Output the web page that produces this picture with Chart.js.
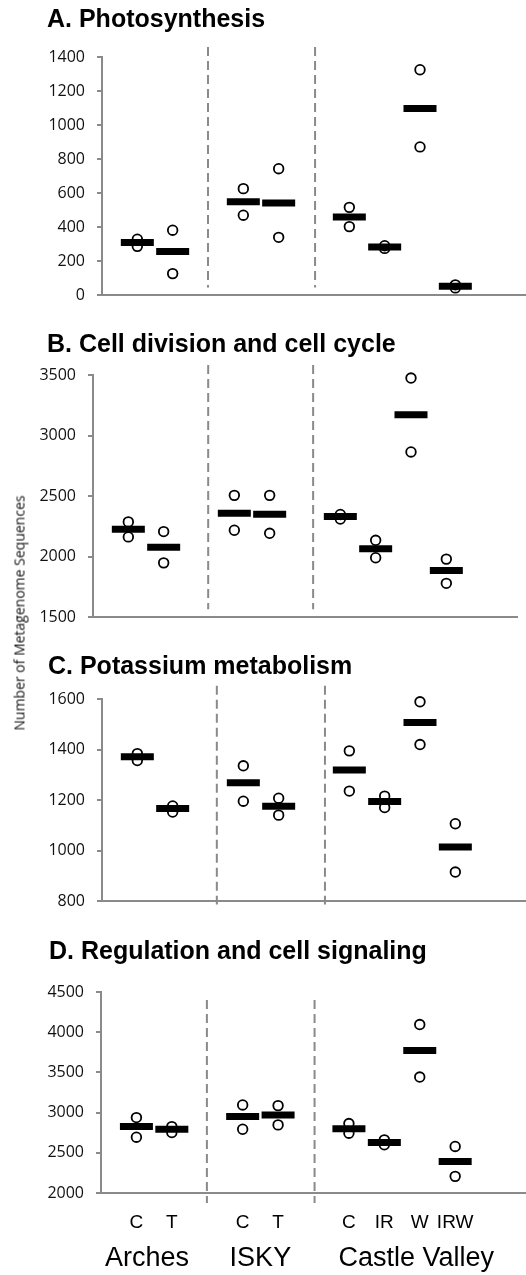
<!DOCTYPE html>
<html>
<head>
<meta charset="utf-8">
<script src="https://cdn.jsdelivr.net/npm/chart.js@4"></script>
<style>
  body { margin: 0; background: #fff; }
  .panel { position: absolute; left: 0; width: 526px; }
  .title {
    position: absolute; height: 30px; line-height: 30px; white-space: nowrap;
    font-family: "Liberation Sans", Arial, sans-serif; font-size: 25px; font-weight: bold; color: #000;
  }
  #ytitle {
    position: absolute; left: 19px; top: 613px;
    transform: translate(-50%, -50%) rotate(-90deg);
    font-family: "Open Sans", sans-serif; font-size: 14px; color: #111;
    white-space: nowrap;
  }
</style>
</head>
<body>
<div class="panel" style="top:0;height:317px"><canvas id="panelA"></canvas></div>
<div class="panel" style="top:310px;height:329px"><canvas id="panelB"></canvas></div>
<div class="panel" style="top:627px;height:296px"><canvas id="panelC"></canvas></div>
<div class="panel" style="top:911px;height:364px"><canvas id="panelD"></canvas></div>
<div class="title" style="left:47px;top:3px">A. Photosynthesis</div>
<div class="title" style="left:47px;top:328px">B. Cell division and cell cycle</div>
<div class="title" style="left:48px;top:650px">C. Potassium metabolism</div>
<div class="title" style="left:49px;top:935px">D. Regulation and cell signaling</div>
<div id="ytitle">Number of Metagenome Sequences</div>
<script>
// sites / treatments
const categories = ["Arches C", "Arches T", "ISKY C", "ISKY T", "Castle Valley C", "Castle Valley IR", "Castle Valley W", "Castle Valley IRW"];
const xSlots = [0, 1, 3, 4, 6, 7, 8, 9];
const xLabels = ["C", "T", "C", "T", "C", "IR", "W", "IRW"];
const groupNames = ["Arches", "ISKY", "Castle Valley"];
const groupSlots = [0.3, 3.5, 7.9];

// A. Photosynthesis
const photoMean = [310, 258, 550, 542, 461, 284, 1098, 53];
const photoRep1 = [330, 383, 627, 744, 517, 292, 1325, 62];
const photoRep2 = [288, 128, 471, 341, 404, 276, 872, 44];

// B. Cell division and cell cycle
const divMean = [2227, 2078, 2360, 2352, 2333, 2067, 3173, 1886];
const divRep1 = [2288, 2208, 2507, 2507, 2349, 2136, 3475, 1981];
const divRep2 = [2164, 1950, 2219, 2194, 2312, 1992, 2865, 1781];

// C. Potassium metabolism
const potMean = [1372, 1167, 1269, 1176, 1319, 1195, 1507, 1015];
const potRep1 = [1384, 1177, 1336, 1208, 1395, 1216, 1589, 1107];
const potRep2 = [1357, 1153, 1196, 1141, 1236, 1171, 1420, 916];

// D. Regulation and cell signaling
const regMean = [2826, 2793, 2950, 2971, 2798, 2628, 3773, 2393];
const regRep1 = [2938, 2826, 3095, 3087, 2864, 2661, 4095, 2579];
const regRep2 = [2694, 2752, 2793, 2847, 2744, 2599, 3442, 2207];

const grey = "#8a8a8a";
const arial = "'Liberation Sans', Arial, sans-serif";

function toPoints(vals) {
	return vals.map((v, i) => ({ x: xSlots[i], y: v }));
}

function makePanel(id, mean, rep1, rep2, o) {
	// dashed separators between the sites
	const dividers = o.dividers.map((d) => ({
		data: [{ x: d, y: o.dashTop }, { x: d, y: o.dashBottom }],
		showLine: true,
		borderColor: grey,
		borderWidth: 2,
		borderDash: [9, 5],
		pointRadius: 0,
		clip: false,
		order: 3,
	}));

	const scales = {
		x: {
			type: "linear",
			position: "bottom",
			min: -1,
			max: 11,
			weight: 0,
			grid: { display: false, drawTicks: false },
			border: { display: true, color: grey, width: 2 },
			ticks: { display: false },
			afterFit: (a) => { a.height = o.xHeight; },
		},
		y: {
			min: o.yMin,
			max: o.yMax,
			grid: { drawOnChartArea: false, drawTicks: true, tickLength: 5, color: grey, lineWidth: 2 },
			border: { display: true, color: grey, width: 2 },
			ticks: {
				stepSize: o.step,
				padding: 12,
				color: "#111",
				font: { family: "'Open Sans', sans-serif", size: 16 },
				callback: (v) => String(v),
			},
			afterFit: (a) => { a.width = o.yWidth; },
		},
	};

	if (o.showLabels) {
		scales.x.ticks = {
			display: true,
			autoSkip: false,
			maxRotation: 0,
			padding: 18,
			color: "#000",
			font: { family: arial, size: 19 },
			callback: (v, i) => xLabels[i],
		};
		scales.x.afterBuildTicks = (a) => { a.ticks = xSlots.map((v) => ({ value: v })); };
		scales.xg = {
			type: "linear",
			position: "bottom",
			min: -1,
			max: 11,
			weight: 1,
			grid: { display: false, drawTicks: false },
			border: { display: false },
			ticks: {
				autoSkip: false,
				maxRotation: 0,
				padding: 5,
				color: "#000",
				font: { family: arial, size: 27 },
				callback: (v, i) => groupNames[i],
			},
			afterBuildTicks: (a) => { a.ticks = groupSlots.map((v) => ({ value: v })); },
			afterFit: (a) => { a.height = 38; },
		};
	}

	return new Chart(document.getElementById(id), {
		type: "scatter",
		data: {
			datasets: [
				{
					label: "Mean",
					data: toPoints(mean),
					pointStyle: "line",
					pointRadius: 16.5,
					pointBorderWidth: 7,
					borderColor: "#000",
					clip: false,
					order: 0,
				},
				{
					label: "Replicate 1",
					data: toPoints(rep1),
					pointRadius: 4.8,
					pointBorderWidth: 1.8,
					borderColor: "#000",
					backgroundColor: "#fff",
					clip: false,
					order: 1,
				},
				{
					label: "Replicate 2",
					data: toPoints(rep2),
					pointRadius: 4.8,
					pointBorderWidth: 1.8,
					borderColor: "#000",
					backgroundColor: "#fff",
					clip: false,
					order: 1,
				},
				...dividers,
			],
		},
		options: {
			responsive: true,
			maintainAspectRatio: false,
			animation: false,
			layout: { autoPadding: false, padding: { left: 0, right: o.right, top: o.top, bottom: 0 } },
			plugins: {
				legend: { display: false },
				tooltip: { enabled: false },
			},
			scales: scales,
		},
	});
}

makePanel("panelA", photoMean, photoRep1, photoRep2, {
	top: 57, right: 0, yWidth: 102, xHeight: 12,
	yMin: 0, yMax: 1400, step: 200,
	dividers: [2.0, 5.03], dashTop: 1459, dashBottom: 47,
});

makePanel("panelB", divMean, divRep1, divRep2, {
	top: 65, right: 9, yWidth: 93, xHeight: 12,
	yMin: 1500, yMax: 3500, step: 500,
	dividers: [2.26, 5.23], dashTop: 3583, dashBottom: 1567,
});

makePanel("panelC", potMean, potRep1, potRep2, {
	top: 72, right: 0, yWidth: 102, xHeight: 12,
	yMin: 800, yMax: 1600, step: 200,
	dividers: [2.25, 5.31], dashTop: 1652, dashBottom: 788,
});

makePanel("panelD", regMean, regRep1, regRep2, {
	top: 81, right: 0, yWidth: 101, xHeight: 44,
	yMin: 2000, yMax: 4500, step: 500, showLabels: true,
	dividers: [1.99, 5.03], dashTop: 4400, dashBottom: 1876,
});
</script>
</body>
</html>
